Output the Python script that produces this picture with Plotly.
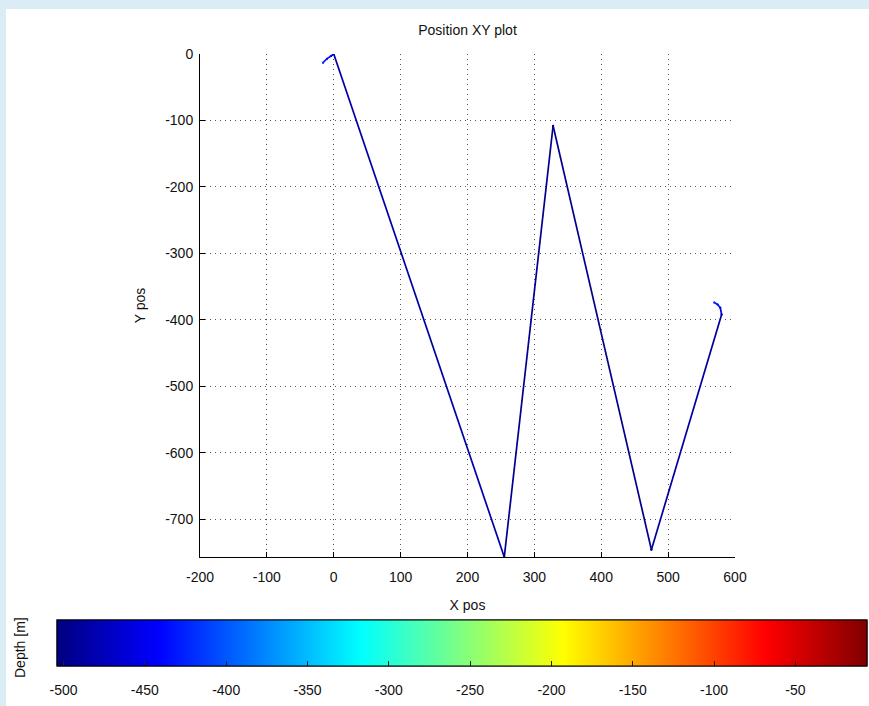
import plotly.graph_objects as go
from plotly.colors import sample_colorscale

# ---- data ----
x_pos = [-16, -10, -4, 0, 255, 328, 475, 580, 578, 574, 569]
y_pos = [-13, -7, -3, 0, -757, -108, -746, -392, -382, -377, -374]
depth = [-420, -430, -440, -470, -500, -495, -500, -480, -440, -430, -420]

depth_min, depth_max = -504, -6
cbar_ticks = [-500, -450, -400, -350, -300, -250, -200, -150, -100, -50]
x_ticks = [-200, -100, 0, 100, 200, 300, 400, 500, 600]
y_ticks = [0, -100, -200, -300, -400, -500, -600, -700]

jet = [[0, 'rgb(0,0,128)'], [0.125, 'rgb(0,0,255)'], [0.375, 'rgb(0,255,255)'],
       [0.625, 'rgb(255,255,0)'], [0.875, 'rgb(255,0,0)'], [1, 'rgb(128,0,0)']]

W, H = 869, 706
L, R, T, B = 200, 134, 54, 149
pw, ph = W - L - R, H - T - B
FONT = 'Liberation Sans'
fnt = dict(family=FONT, size=14, color='#111')

# colour bar geometry (pixels)
CB_X0, CB_LEN, CB_TOP, CB_TH = 57, 810, 620, 46


def lab(v):
    return str(v)  # plain hyphen minus, as in the reference


def px_to_paper_x(px):
    return (px - L) / pw


def px_to_paper_y(py):
    return ((H - B) - py) / ph


def cbar(**kw):
    base = dict(orientation='h', xref='paper', yref='paper',
                x=px_to_paper_x(CB_X0), xanchor='left',
                y=px_to_paper_y(CB_TOP), yanchor='top',
                lenmode='pixels', len=CB_LEN, thicknessmode='pixels', thickness=CB_TH,
                xpad=0, ypad=0, outlinecolor='black', outlinewidth=1,
                tickvals=cbar_ticks, ticktext=[lab(v) for v in cbar_ticks], tickfont=fnt)
    base.update(kw)
    return base


fig = go.Figure()

# coloured line segments
for i in range(len(x_pos) - 1):
    d = 0.5 * (depth[i] + depth[i + 1])
    frac = (d - depth_min) / (depth_max - depth_min)
    col = sample_colorscale(jet, [frac])[0]
    fig.add_trace(go.Scatter(x=[x_pos[i], x_pos[i + 1]], y=[y_pos[i], y_pos[i + 1]],
                             mode='lines', line=dict(color=col, width=1.7),
                             showlegend=False, hoverinfo='skip'))

# points carrying the depth colour scale (labels of the colour bar)
fig.add_trace(go.Scatter(
    x=x_pos, y=y_pos, mode='markers', showlegend=False, hoverinfo='skip',
    marker=dict(size=2, color=depth, colorscale=jet, cmin=depth_min, cmax=depth_max,
                showscale=True,
                colorbar=cbar(ticks='outside', ticklen=12, tickcolor='rgba(0,0,0,0)')),
))
# same points again, drawing the inside tick marks of the colour bar
fig.add_trace(go.Scatter(
    x=x_pos, y=y_pos, mode='markers', showlegend=False,
    marker=dict(size=2, color=depth, colorscale=jet, cmin=depth_min, cmax=depth_max,
                showscale=True,
                colorbar=cbar(ticks='inside', ticklen=5, tickcolor='#222',
                              showticklabels=False)),
))

axis_common = dict(showline=True, linecolor='black', linewidth=1, ticks='inside', ticklen=5,
                   tickcolor='black', showgrid=True, gridcolor='#555', griddash='1px,4px',
                   gridwidth=1, zeroline=False, mirror=False, tickfont=fnt)

shapes = [dict(type='rect', xref='paper', yref='paper', layer='below',
               x0=px_to_paper_x(6), x1=px_to_paper_x(W),
               y0=px_to_paper_y(H), y1=px_to_paper_y(9),
               fillcolor='white', line=dict(width=0))]

fig.update_layout(
    width=W, height=H,
    margin=dict(l=L, r=R, t=T, b=B, autoexpand=False),
    paper_bgcolor='rgb(218,236,244)', plot_bgcolor='white',
    title=dict(text='Position XY plot', x=(L + pw / 2) / W, xanchor='center',
               y=1 - 30 / H, yanchor='middle', font=fnt),
    xaxis=dict(range=[-200, 600], tickvals=x_ticks, ticktext=[lab(v) for v in x_ticks],
               ticklabelstandoff=7,
               **axis_common, title=dict(text='X pos', standoff=16, font=fnt)),
    yaxis=dict(range=[-757, 0], tickvals=y_ticks, ticktext=[lab(v) for v in y_ticks],
               ticklabelstandoff=3,
               **axis_common, title=dict(text='Y pos', standoff=16, font=fnt)),
    shapes=shapes,
    annotations=[dict(text='Depth [m]', textangle=-90, xref='paper', yref='paper',
                      x=px_to_paper_x(20), y=px_to_paper_y(648), showarrow=False,
                      xanchor='center', yanchor='middle', font=fnt)],
)

fig.write_html('out.html')
